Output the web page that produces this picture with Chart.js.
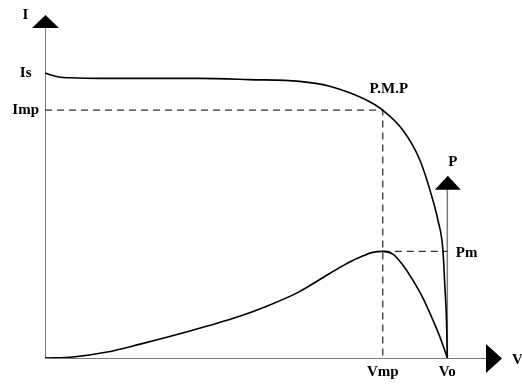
<!DOCTYPE html>
<html>
<head>
<meta charset="utf-8">
<script src="https://cdn.jsdelivr.net/npm/chart.js@4"></script>
<style>
  html, body { margin: 0; padding: 0; background: #fff; }
  #wrap { width: 522px; height: 384px; }
</style>
</head>
<body>
<div id="wrap"><canvas id="ivChart" width="522" height="384"></canvas></div>
<script>
// I-V curve (voltage, current)
const voltage = [0, 0.25, 0.75, 1.25, 2.7, 5.2, 7.7, 10.2, 12.7, 14.2, 15.2, 16.2, 16.85, 17.85, 18.7, 19.35, 19.6, 19.85, 19.95, 20.03, 20.07];
const current = [4.75, 4.72, 4.68, 4.67, 4.66, 4.66, 4.66, 4.64, 4.61, 4.53, 4.42, 4.27, 4.13, 3.8, 3.3, 2.63, 2.3, 1.8, 1.18, 0.63, 0];

// P-V curve (voltage, power)
const powerVoltage = [0, 1.4, 3.1, 4.75, 6.4, 8.1, 9.75, 10.9, 12.6, 14.2, 15.2, 15.85, 16.35, 16.85, 17.35, 17.85, 18.35, 18.85, 19.35, 19.7, 20.07];
const power = [0, 0.3, 1.8, 4.2, 6.8, 9.7, 12.7, 15.3, 19.8, 25.6, 29.1, 30.9, 32.0, 32.3, 31.5, 28.2, 23.6, 18.2, 11.5, 6.4, 0];

// key points
const Vmp = 16.85, Vo = 20.07;
const Is = 4.75, Imp = 4.13;
const Pm = 32.3, pAxisTop = 51;

// tick labels
const vTicks = [Vmp, Vo];
const vLabels = ['Vmp', 'Vo'];
const iTicks = [Is, Imp];
const iLabels = ['Is', 'Imp'];

const labelFont = { family: "'Liberation Serif', 'DejaVu Serif', serif", size: 15, weight: 'bold' };

const toPoints = (xs, ys) => xs.map((x, i) => ({ x: x, y: ys[i] }));

// arrows at the axis ends + free labels
const axisDecor = {
  id: 'axisDecor',
  afterDraw(chart) {
    const { ctx, chartArea } = chart;
    const xs = chart.scales.x, ps = chart.scales.p, ys = chart.scales.y;
    const left = chartArea.left + 0.5, bottom = chartArea.bottom + 0.5;
    const top = chartArea.top, right = chartArea.right;

    const tri = (pts) => {
      ctx.beginPath();
      ctx.moveTo(pts[0][0], pts[0][1]);
      ctx.lineTo(pts[1][0], pts[1][1]);
      ctx.lineTo(pts[2][0], pts[2][1]);
      ctx.closePath();
      ctx.fill();
    };

    ctx.save();
    ctx.fillStyle = '#000';
    // I axis
    tri([[left - 13.5, top], [left + 13.5, top], [left, top - 13]]);
    // V axis
    tri([[right, bottom - 14.5], [right, bottom + 14.5], [right + 16, bottom]]);
    // P axis
    const px = xs.getPixelForValue(Vo) + 0.5;
    const pTop = ps.getPixelForValue(pAxisTop);
    tri([[px - 13, pTop], [px + 13, pTop], [px, pTop - 14]]);

    ctx.font = 'bold 15px ' + labelFont.family;
    ctx.textBaseline = 'alphabetic';
    ctx.textAlign = 'center';
    ctx.fillText('I', left - 20, top - 9);
    ctx.fillText('P.M.P', xs.getPixelForValue(Vmp) + 6, ys.getPixelForValue(Imp) - 17);
    ctx.fillText('P', px + 5, pTop - 24);
    ctx.textAlign = 'left';
    ctx.fillText('Pm', px + 8, ps.getPixelForValue(Pm) + 6);
    ctx.fillText('V', right + 26, bottom + 5);
    ctx.restore();
  }
};

const ctx = document.getElementById('ivChart').getContext('2d');
new Chart(ctx, {
  type: 'line',
  data: {
    datasets: [
      {
        label: 'I',
        data: toPoints(voltage, current),
        yAxisID: 'y',
        borderColor: '#000',
        borderWidth: 1.6,
        pointRadius: 0,
        cubicInterpolationMode: 'monotone'
      },
      {
        label: 'P',
        data: toPoints(powerVoltage, power),
        yAxisID: 'p',
        borderColor: '#000',
        borderWidth: 1.6,
        pointRadius: 0,
        cubicInterpolationMode: 'monotone'
      },
      {
        label: 'Imp guide',
        data: [{ x: 0, y: Imp }, { x: Vmp, y: Imp }, { x: Vmp, y: 0 }],
        yAxisID: 'y',
        borderColor: '#333',
        borderWidth: 1.3,
        borderDash: [7, 5],
        pointRadius: 0,
        tension: 0
      },
      {
        label: 'Pm guide',
        data: [{ x: Vmp, y: Pm }, { x: Vo, y: Pm }],
        yAxisID: 'p',
        borderColor: '#333',
        borderWidth: 1.3,
        borderDash: [7, 5],
        pointRadius: 0,
        tension: 0
      },
      {
        label: 'P axis',
        data: [{ x: Vo, y: 0 }, { x: Vo, y: pAxisTop }],
        yAxisID: 'p',
        borderColor: '#7a7a7a',
        borderWidth: 1.5,
        pointRadius: 0,
        tension: 0
      }
    ]
  },
  options: {
    responsive: false,
    animation: false,
    devicePixelRatio: 1,
    layout: { padding: { top: 28, right: 36, left: 0, bottom: 0 } },
    plugins: {
      legend: { display: false },
      tooltip: { enabled: false }
    },
    scales: {
      x: {
        type: 'linear',
        min: 0,
        max: 22,
        grid: { display: false, drawTicks: false },
        border: { display: true, color: '#7a7a7a', width: 1 },
        afterBuildTicks: s => { s.ticks = vTicks.map(v => ({ value: v })); },
        afterFit: s => { s.height = 26; },
        ticks: {
          font: labelFont,
          color: '#000',
          padding: 5,
          maxRotation: 0,
          autoSkip: false,
          callback: (v, i) => vLabels[i]
        }
      },
      y: {
        type: 'linear',
        min: 0,
        max: 5.5,
        grid: { display: false, drawTicks: false },
        border: { display: true, color: '#7a7a7a', width: 1 },
        afterBuildTicks: s => { s.ticks = iTicks.map(v => ({ value: v })); },
        afterFit: s => { s.width = 45; },
        ticks: {
          font: labelFont,
          color: '#000',
          padding: 6,
          crossAlign: 'center',
          autoSkip: false,
          callback: (v, i) => iLabels[i]
        }
      },
      p: {
        type: 'linear',
        display: false,
        position: 'right',
        min: 0,
        max: 100
      }
    }
  },
  plugins: [axisDecor]
});
</script>
</body>
</html>
